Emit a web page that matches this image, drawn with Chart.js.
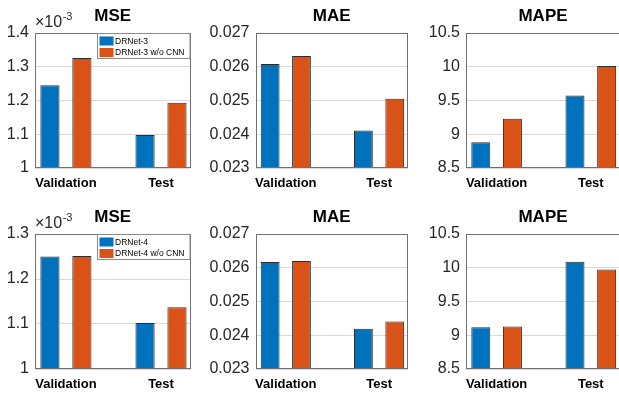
<!DOCTYPE html>
<html>
<head>
<meta charset="utf-8">
<script src="https://cdn.jsdelivr.net/npm/chart.js@4.4.1/dist/chart.umd.min.js"></script>
<style>
  html, body { margin: 0; padding: 0; background: #fff; overflow: hidden; width: 619px; height: 399px; position: relative; }
  canvas { position: absolute; }
</style>
</head>
<body>
<canvas id="c1"></canvas>
<canvas id="c2"></canvas>
<canvas id="c3"></canvas>
<canvas id="c4"></canvas>
<canvas id="c5"></canvas>
<canvas id="c6"></canvas>
<script>
// data
var categories = ['Validation', 'Test'];
var names3 = ['DRNet-3', 'DRNet-3 w/o CNN'];
var names4 = ['DRNet-4', 'DRNet-4 w/o CNN'];

var mse3 = [0.001245, 0.001098];
var mse3NoCnn = [0.001326, 0.001193];
var mae3 = [0.02608, 0.02411];
var mae3NoCnn = [0.02632, 0.02505];
var mape3 = [8.88, 9.575];
var mape3NoCnn = [9.23, 10.01];

var mse4 = [0.00125, 0.001102];
var mse4NoCnn = [0.001251, 0.001137];
var mae4 = [0.02617, 0.02419];
var mae4NoCnn = [0.0262, 0.02441];
var mape4 = [9.118, 10.09];
var mape4NoCnn = [9.13, 9.975];

var mseTicksTop = [0.0010, 0.0011, 0.0012, 0.0013, 0.0014];
var mseTicksBottom = [0.0010, 0.0011, 0.0012, 0.0013];
var maeTicks = [0.023, 0.024, 0.025, 0.026, 0.027];
var mapeTicks = [8.5, 9, 9.5, 10, 10.5];

var BLUE = '#0072BD';
var ORANGE = '#D95319';
var FONT = '"Liberation Sans", Arial, Helvetica, sans-serif';

function fmtMse(v) { return String(+(v * 1000).toFixed(3)); }
function fmtPlain(v) { return String(+v.toFixed(4)); }

// box, title, exponent and legend drawn the MATLAB way
var decor = {
  id: 'decor',
  afterDraw: function (chart, args, o) {
    var a = chart.chartArea, ctx = chart.ctx;
    var l = Math.round(a.left) + 0.5, t = Math.round(a.top) + 0.5;
    var r = Math.round(a.right) - 0.5, b = Math.round(a.bottom) - 0.5;
    ctx.save();
    ctx.strokeStyle = '#707070';
    ctx.lineWidth = 1;
    ctx.strokeRect(l, t, r - l, b - t);

    ctx.fillStyle = '#000';
    ctx.font = 'bold 17px ' + FONT;
    ctx.textAlign = 'center';
    ctx.textBaseline = 'alphabetic';
    ctx.fillText(o.title, (a.left + a.right) / 2, a.top - 12);

    if (o.exponent) {
      ctx.fillStyle = '#262626';
      ctx.textAlign = 'left';
      ctx.font = '16px ' + FONT;
      ctx.fillText('\u00d710', a.left, a.top - 6);
      var w = ctx.measureText('\u00d710').width;
      ctx.font = '11px ' + FONT;
      ctx.fillText(o.exponent, a.left + w + 0.5, a.top - 13);
    }

    if (o.legend) {
      var lw = 92.5, lh = 25;
      var lx = Math.round(a.right - 1 - lw) + 0.5, ly = t;
      ctx.fillStyle = '#fff';
      ctx.fillRect(lx, ly, lw, lh);
      ctx.strokeStyle = '#8a8a8a';
      ctx.strokeRect(lx, ly, lw, lh);
      chart.data.datasets.forEach(function (ds, i) {
        var sy = ly + 3 + i * 11.5;
        ctx.fillStyle = ds.backgroundColor;
        ctx.fillRect(lx + 2, sy, 14, 9);
        ctx.fillStyle = '#000';
        ctx.font = '8.5px ' + FONT;
        ctx.textAlign = 'left';
        ctx.textBaseline = 'middle';
        ctx.fillText(ds.label, lx + 17.5, sy + 5);
      });
    }
    ctx.restore();
  }
};

function makePanel(id, box, plot, names, full, noCnn, ticks, fmt, title, exponent) {
  var cv = document.getElementById(id);
  cv.width = box.w; cv.height = box.h;
  cv.style.left = box.x + 'px'; cv.style.top = box.y + 'px';
  cv.style.width = box.w + 'px'; cv.style.height = box.h + 'px';

  function pts(arr) { return arr.map(function (v, i) { return { x: i + 1, y: v }; }); }

  new Chart(cv, {
    type: 'bar',
    data: {
      datasets: [
        { label: names[0], data: pts(full), backgroundColor: BLUE, borderColor: '#2b2b2b', borderWidth: 1 },
        { label: names[1], data: pts(noCnn), backgroundColor: ORANGE, borderColor: '#2b2b2b', borderWidth: 1 }
      ]
    },
    options: {
      responsive: false,
      animation: false,
      devicePixelRatio: 1,
      categoryPercentage: 0.672,
      barPercentage: 0.6,
      layout: { padding: { top: plot.y0 - box.y, right: box.x + box.w - plot.x1, left: 0, bottom: 0 } },
      plugins: {
        legend: { display: false },
        tooltip: { enabled: false },
        decor: { title: title, exponent: exponent, legend: exponent ? true : false }
      },
      scales: {
        x: {
          type: 'linear',
          min: 0.675, max: 2.31,
          offset: false,
          bounds: 'data',
          grid: { display: false, drawTicks: false, offset: false },
          border: { display: false },
          afterBuildTicks: function (s) { s.ticks = categories.map(function (c, i) { return { value: i + 1 }; }); },
          afterFit: function (s) { s.height = box.y + box.h - plot.y1; },
          ticks: {
            maxRotation: 0,
            autoSkip: false,
            padding: 8,
            color: '#000',
            font: { family: FONT, size: 13, weight: 'bold' },
            callback: function (v) { return categories[Math.round(v) - 1]; }
          }
        },
        y: {
          min: ticks[0], max: ticks[ticks.length - 1],
          grid: { color: '#d9d9d9', drawTicks: false },
          border: { display: false },
          afterBuildTicks: function (s) { s.ticks = ticks.map(function (v) { return { value: v }; }); },
          afterFit: function (s) { s.width = plot.x0 - box.x; },
          ticks: {
            padding: 6,
            color: '#262626',
            font: { family: FONT, size: 16 },
            callback: function (v) { return fmt(v); }
          }
        }
      }
    },
    plugins: [decor]
  });
}

var cols = [
  { x: 0, w: 205, x0: 35, x1: 190.5 },
  { x: 205, w: 205, x0: 255.5, x1: 408 },
  { x: 410, w: 215, x0: 466, x1: 620 }
];
var rows = [
  { y: 0, h: 200, y0: 33, y1: 168 },
  { y: 200, h: 199, y0: 234, y1: 369 }
];

function cell(c, r) {
  return {
    box: { x: cols[c].x, y: rows[r].y, w: cols[c].w, h: rows[r].h },
    plot: { x0: cols[c].x0, x1: cols[c].x1, y0: rows[r].y0, y1: rows[r].y1 }
  };
}

var p;
p = cell(0, 0); makePanel('c1', p.box, p.plot, names3, mse3, mse3NoCnn, mseTicksTop, fmtMse, 'MSE', '-3');
p = cell(1, 0); makePanel('c2', p.box, p.plot, names3, mae3, mae3NoCnn, maeTicks, fmtPlain, 'MAE', null);
p = cell(2, 0); makePanel('c3', p.box, p.plot, names3, mape3, mape3NoCnn, mapeTicks, fmtPlain, 'MAPE', null);
p = cell(0, 1); makePanel('c4', p.box, p.plot, names4, mse4, mse4NoCnn, mseTicksBottom, fmtMse, 'MSE', '-3');
p = cell(1, 1); makePanel('c5', p.box, p.plot, names4, mae4, mae4NoCnn, maeTicks, fmtPlain, 'MAE', null);
p = cell(2, 1); makePanel('c6', p.box, p.plot, names4, mape4, mape4NoCnn, mapeTicks, fmtPlain, 'MAPE', null);
</script>
</body>
</html>
